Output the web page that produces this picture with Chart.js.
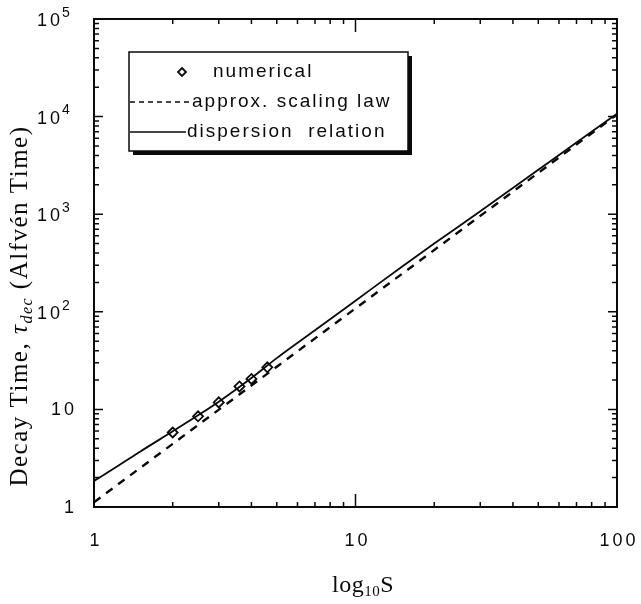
<!DOCTYPE html>
<html>
<head>
<meta charset="utf-8">
<script src="https://cdn.jsdelivr.net/npm/chart.js@4"></script>
<style>
  html, body { margin: 0; padding: 0; background: #fff; }
  #wrap { width: 641px; height: 604px; }
</style>
</head>
<body>
<div id="wrap"><canvas id="chart" width="641" height="604"></canvas></div>
<script>
const ctx = document.getElementById('chart');

const ink = '#0a0a0a';
const sansFont = '"Liberation Sans", Arial, Helvetica, sans-serif';
const serifFont = '"Liberation Serif", "Times New Roman", serif';

// dispersion relation curve
const sValues = [1, 1.25, 1.5, 2, 2.5, 3, 4, 5, 7, 10, 15, 20, 30, 50, 70, 100];
const dispersionTimes = [1.85, 2.69, 3.69, 5.96, 8.7, 12.0, 21, 33.5, 64.6, 130, 288, 500, 1070, 2850, 5430, 10700];

// approx. scaling law (straight on log-log)
const scalingS = [1, 100];
const scalingTimes = [1.12, 10500];

// numerical runs
const numericalS = [2, 2.5, 3, 3.6, 4, 4.6];
const numericalTimes = [5.8, 8.5, 11.8, 17.2, 20.5, 27];

// axis labels
const xTickValues = [1, 10, 100];
const xTickLabels = ['1', '10', '100'];
const yTickValues = [1, 10, 100, 1000, 10000, 100000];
const yTickLabels = ['1', '10', '10^2', '10^3', '10^4', '10^5'];

function pts(xs, ys) {
    return xs.map((x, i) => ({ x: x, y: ys[i] }));
}

function drawTicks(c, area, scale, horizontal) {
    const decades = horizontal ? 2 : 5;
    for (let d = 0; d < decades; d++) {
        for (let m = 1; m <= 9; m++) {
            const v = m * Math.pow(10, d);
            const p = scale.getPixelForValue(v);
            const len = m === 1 ? (horizontal ? 13 : 9) : 5;
            c.beginPath();
            if (horizontal) {
                c.moveTo(p, area.bottom); c.lineTo(p, area.bottom - len);
                c.moveTo(p, area.top); c.lineTo(p, area.top + len);
            } else {
                c.moveTo(area.left, p); c.lineTo(area.left + len, p);
                c.moveTo(area.right, p); c.lineTo(area.right - len, p);
            }
            c.stroke();
        }
    }
}

function drawLegend(c, chart) {
    const box = { left: 129, top: 52, right: 408, bottom: 151 };
    c.fillStyle = ink;
    c.fillRect(box.left + 4, box.top + 4, box.right - box.left, box.bottom - box.top);
    c.fillStyle = '#fff';
    c.fillRect(box.left, box.top, box.right - box.left, box.bottom - box.top);
    c.lineWidth = 1.5;
    c.strokeStyle = ink;
    c.strokeRect(box.left, box.top, box.right - box.left, box.bottom - box.top);

    const rows = [
        { y: 72, textX: 213 },
        { y: 102, textX: 192 },
        { y: 132, textX: 187 }
    ];
    c.font = '19px ' + sansFont;
    c.letterSpacing = '2px';
    c.textBaseline = 'middle';
    c.textAlign = 'left';
    chart.data.datasets.forEach((ds, i) => {
        const r = rows[i];
        c.strokeStyle = ink;
        if (!ds.showLine) {
            c.lineWidth = 1.8;
            c.beginPath();
            c.moveTo(182, r.y - 4); c.lineTo(186, r.y); c.lineTo(182, r.y + 4); c.lineTo(178, r.y);
            c.closePath();
            c.stroke();
        } else {
            c.lineWidth = 1.5;
            c.setLineDash(ds.borderDash ? [5, 4] : []);
            c.beginPath();
            c.moveTo(130, r.y); c.lineTo(ds.borderDash ? 189 : 186, r.y);
            c.stroke();
            c.setLineDash([]);
        }
        c.fillStyle = ink;
        c.fillText(ds.label, r.textX, r.y);
    });
    c.letterSpacing = '0px';
}

const framePlugin = {
    id: 'frame',
    afterDraw(chart) {
        const c = chart.ctx;
        const area = chart.chartArea;
        const xs = chart.scales.x, ys = chart.scales.y;
        c.save();

        // frame and inward ticks
        c.strokeStyle = ink;
        c.lineWidth = 2;
        c.strokeRect(area.left, area.top, area.right - area.left, area.bottom - area.top);
        c.lineWidth = 1.5;
        drawTicks(c, area, xs, true);
        drawTicks(c, area, ys, false);

        // x tick labels
        c.fillStyle = ink;
        c.font = '18px ' + sansFont;
        c.letterSpacing = '3px';
        c.textAlign = 'center';
        c.textBaseline = 'middle';
        xTickValues.forEach((v, i) => {
            c.fillText(xTickLabels[i], xs.getPixelForValue(v) + 2, 541);
        });

        // y tick labels, powers of ten with raised exponents
        yTickValues.forEach((v, i) => {
            const py = ys.getPixelForValue(v);
            const parts = yTickLabels[i].split('^');
            c.font = '18px ' + sansFont;
            c.letterSpacing = '3px';
            if (parts.length === 1) {
                c.textAlign = 'right';
                c.fillText(parts[0], 77, py + 1);
            } else {
                c.textAlign = 'left';
                c.fillText(parts[0], 37, py + 2);
                const w = c.measureText(parts[0]).width;
                c.font = '14px ' + sansFont;
                c.letterSpacing = '0px';
                c.fillText(parts[1], 37 + w - 1, py - 6);
            }
        });
        c.letterSpacing = '0px';

        // y axis title
        const seg = [
            { t: 'Decay Time, ', f: '25px ' + serifFont, dy: 0 },
            { t: '\u03c4', f: 'italic 25px ' + serifFont, dy: 0 },
            { t: 'dec', f: 'italic 16px ' + serifFont, dy: 5 },
            { t: ' (Alfv\u00e9n Time)', f: '25px ' + serifFont, dy: 0 }
        ];
        c.letterSpacing = '1.5px';
        let total = 0;
        seg.forEach(s => { c.font = s.f; s.w = c.measureText(s.t).width; total += s.w; });
        c.save();
        c.translate(27, 306);
        c.rotate(-Math.PI / 2);
        c.textAlign = 'left';
        c.textBaseline = 'alphabetic';
        let x0 = -total / 2;
        seg.forEach(s => { c.font = s.f; c.fillText(s.t, x0, s.dy); x0 += s.w; });
        c.restore();

        // x axis title: log10 S
        const xt = [
            { t: 'log', f: '24px ' + serifFont, dy: 0 },
            { t: '10', f: '15px ' + serifFont, dy: 4 },
            { t: 'S', f: '24px ' + serifFont, dy: 0 }
        ];
        c.letterSpacing = '0.5px';
        let tw = 0;
        xt.forEach(s => { c.font = s.f; s.w = c.measureText(s.t).width; tw += s.w; });
        c.textAlign = 'left';
        c.textBaseline = 'alphabetic';
        let xx = 363 - tw / 2;
        xt.forEach(s => { c.font = s.f; c.fillText(s.t, xx, 592 + s.dy); xx += s.w; });
        c.letterSpacing = '0px';

        drawLegend(c, chart);
        c.restore();
    }
};

const data = {
    datasets: [{
        label: 'numerical',
        data: pts(numericalS, numericalTimes),
        showLine: false,
        pointStyle: 'rectRot',
        pointRadius: 5,
        pointBorderWidth: 1.8,
        pointBorderColor: ink,
        pointBackgroundColor: 'rgba(255,255,255,0)'
    }, {
        label: 'approx. scaling law',
        data: pts(scalingS, scalingTimes),
        showLine: true,
        borderColor: ink,
        borderWidth: 2.4,
        borderDash: [8, 7],
        pointRadius: 0
    }, {
        label: 'dispersion  relation',
        data: pts(sValues, dispersionTimes),
        showLine: true,
        borderColor: ink,
        borderWidth: 1.8,
        cubicInterpolationMode: 'monotone',
        pointRadius: 0
    }]
};

const config = {
    type: 'scatter',
    data: data,
    options: {
        responsive: false,
        animation: false,
        layout: { padding: { left: 94, right: 24, top: 19, bottom: 97 } },
        plugins: {
            legend: { display: false },
            tooltip: { enabled: false }
        },
        scales: {
            x: { type: 'logarithmic', min: 1, max: 100, display: false },
            y: { type: 'logarithmic', min: 1, max: 100000, display: false }
        }
    },
    plugins: [framePlugin]
};
const myChart = new Chart(ctx, config);
</script>
</body>
</html>
